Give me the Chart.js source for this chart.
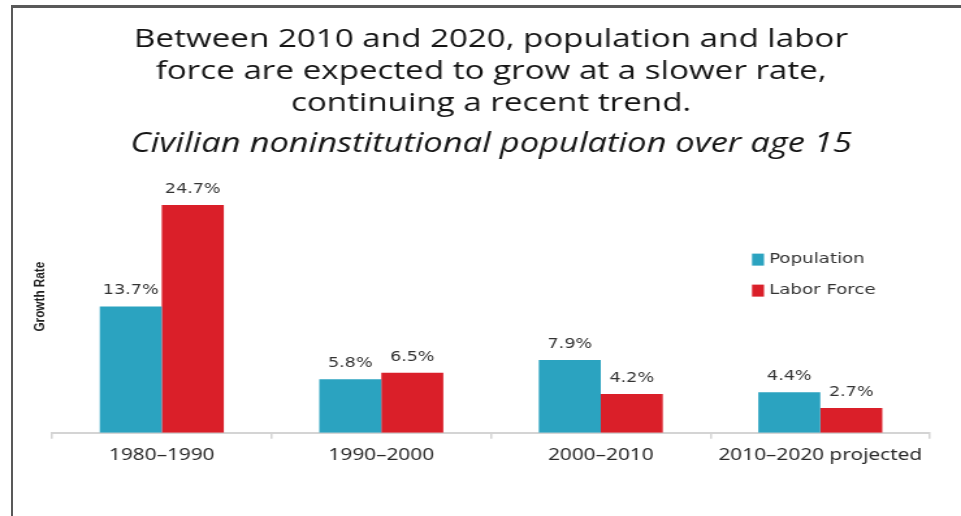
<!DOCTYPE html>
<html>
<head>
<meta charset="utf-8">
<title>Population and labor force growth</title>
<script src="https://cdn.jsdelivr.net/npm/chart.js@4.4.1/dist/chart.umd.min.js"></script>
<style>
  html, body { margin: 0; padding: 0; background: #ffffff; }
  #wrap { position: relative; width: 961px; height: 516px; overflow: hidden; }
  #frame {
    position: absolute; left: 11px; top: 5px; right: -10px; bottom: -10px;
    border-top: 3px solid #595959; border-left: 2px solid #595959;
  }
  /* il grafico viene disegnato stretto e poi allargato in orizzontale */
  #growthChart {
    position: absolute; left: 0; top: 0;
    transform: scaleX(1.3004); transform-origin: 0 0;
  }
</style>
</head>
<body>
<div id="wrap">
  <div id="frame"></div>
  <canvas id="growthChart" width="739" height="516"></canvas>
</div>
<script>
// Periodi e tassi di crescita (%) della popolazione civile e della forza lavoro
const periods = ["1980\u20131990", "1990\u20132000", "2000\u20132010", "2010\u20132020 projected"];
const populationGrowth = [13.7, 5.8, 7.9, 4.4];
const laborForceGrowth = [24.7, 6.5, 4.2, 2.7];
const seriesNames = ["Population", "Labor Force"];
const seriesColors = ["#2ba3c0", "#da1f29"];

const titleLines = [
  "Between 2010 and 2020, population and labor",
  "force are expected to grow at a slower rate,",
  "continuing a recent trend.",
];
const subtitleText = "Civilian noninstitutional population over age 15";
const yAxisTitle = "Growth Rate";

// fattore con cui il canvas viene allargato via CSS
const STRETCH = 1.3004;

// Scrive il valore percentuale sopra ogni barra.
const valueLabels = {
  id: "valueLabels",
  afterDatasetsDraw(chart) {
    const ctx = chart.ctx;
    ctx.save();
    ctx.font = "13.5px 'DejaVu Sans'";
    ctx.fillStyle = "#333333";
    ctx.textAlign = "center";
    ctx.textBaseline = "alphabetic";
    chart.data.datasets.forEach((ds, i) => {
      chart.getDatasetMeta(i).data.forEach((bar, j) => {
        ctx.fillText(ds.data[j].toFixed(1) + "%", bar.x, bar.y - 12);
      });
    });
    ctx.restore();
  },
};

// Legenda verticale dentro l'area del grafico e titolo ruotato dell'asse y.
const sideText = {
  id: "sideText",
  afterDraw(chart) {
    const ctx = chart.ctx;
    const area = chart.chartArea;
    ctx.save();
    ctx.font = "14px 'DejaVu Sans'";
    ctx.textBaseline = "middle";
    chart.data.datasets.forEach((ds, i) => {
      const y = area.top + 85 + i * 31;
      ctx.fillStyle = ds.backgroundColor;
      ctx.fillRect(area.left + 538.3, y - 6, 12 / STRETCH, 12);
      ctx.fillStyle = "#333333";
      ctx.fillText(ds.label, area.left + 551.4, y);
    });
    ctx.restore();

    // testo ruotato: compensa l'allargamento e lo rende un po' condensato
    ctx.save();
    ctx.translate(30.8, area.top + 122);
    ctx.rotate(-Math.PI / 2);
    ctx.scale(0.84, 1 / STRETCH);
    ctx.font = "bold 14px 'Liberation Sans'";
    ctx.fillStyle = "#222222";
    ctx.textAlign = "center";
    ctx.textBaseline = "middle";
    ctx.fillText(yAxisTitle, 0, 0);
    ctx.restore();
  },
};

function createGrowthChart() {
  const ctx = document.getElementById("growthChart").getContext("2d");

  new Chart(ctx, {
    type: "bar",
    data: {
      labels: periods,
      datasets: [
        { label: seriesNames[0], data: populationGrowth, backgroundColor: seriesColors[0] },
        { label: seriesNames[1], data: laborForceGrowth, backgroundColor: seriesColors[1] },
      ],
    },
    options: {
      responsive: false,
      animation: false,
      layout: { padding: { left: 40, right: 23.8, top: 6, bottom: 44 } },
      datasets: {
        bar: { categoryPercentage: 0.565, barPercentage: 1.0 },
      },
      plugins: {
        legend: { display: false },
        tooltip: { enabled: false },
        title: {
          display: true,
          text: titleLines,
          color: "#151515",
          font: { family: "Open Sans", size: 25.5, weight: "normal", lineHeight: 1.25 },
          padding: { top: 18, bottom: 4 },
        },
        subtitle: {
          display: true,
          text: subtitleText,
          color: "#151515",
          font: { family: "Open Sans", size: 26.5, style: "italic", weight: "normal", lineHeight: 1.2 },
          padding: { top: 4.5, bottom: 14.7 },
        },
      },
      scales: {
        x: {
          grid: {
            display: true,
            drawOnChartArea: false,
            drawTicks: true,
            tickLength: 6,
            color: "#d4d4d4",
            lineWidth: 1.5,
          },
          border: { display: true, color: "#d4d4d4", width: 2 },
          ticks: {
            color: "#2a2a2a",
            padding: 7,
            font: { family: "Noto Sans", size: 16 },
          },
        },
        y: {
          display: false,
          min: 0,
          max: 28,
        },
      },
    },
    plugins: [valueLabels, sideText],
  });
}

createGrowthChart();
</script>
</body>
</html>
